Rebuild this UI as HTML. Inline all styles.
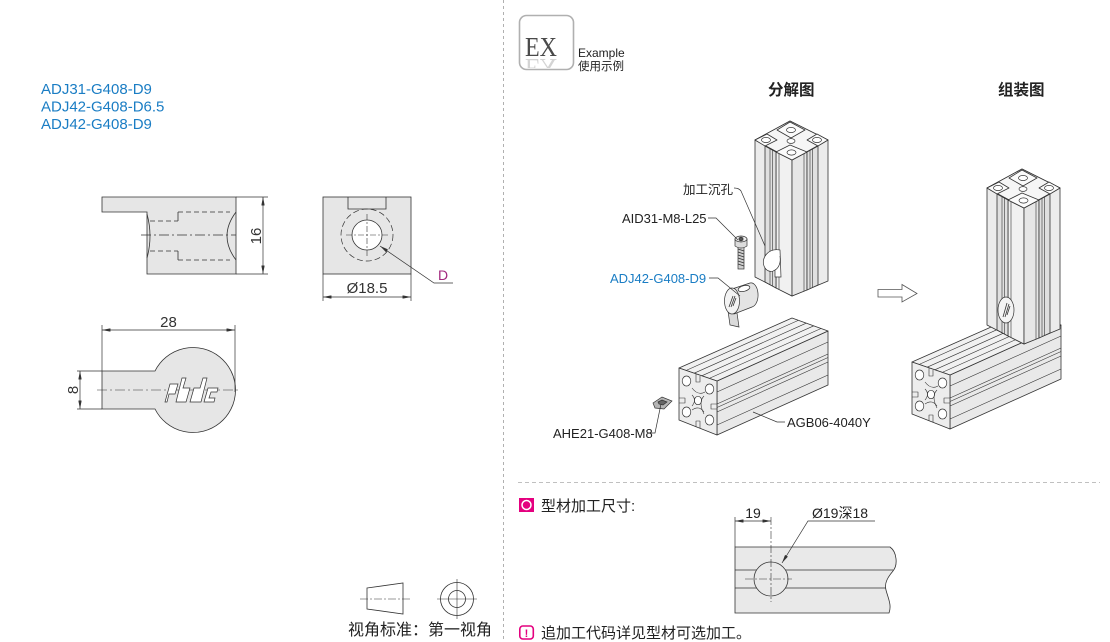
<!DOCTYPE html>
<html><head><meta charset="utf-8">
<style>
html,body{margin:0;padding:0;background:#fff;width:1110px;height:642px;overflow:hidden;}
svg{display:block;}
text{font-family:"Liberation Sans","Noto Sans CJK SC",sans-serif;}
text.serif{font-family:"Liberation Serif",serif;}
</style></head><body>
<svg width="1110" height="642" viewBox="0 0 1110 642" xmlns="http://www.w3.org/2000/svg">
<defs>
<marker id="a" viewBox="0 0 10 4" refX="10" refY="2" markerWidth="9" markerHeight="3.4" markerUnits="userSpaceOnUse" orient="auto-start-reverse"><path d="M0,0L10,2L0,4z" fill="#333"/></marker>
<clipPath id="rc"><rect x="520" y="57" width="53" height="11"/></clipPath>

<g id="vp" stroke="#333" stroke-width="0.8" stroke-linejoin="round">
 <polygon points="755,140 790,121 828,140 828,281 792,296 755,277" fill="#ececec"/>
 <polygon points="776,152 792,160 792,296 776,288" fill="#f1f1f1"/>
 <polygon points="792,160 807,152 807,290 792,296" fill="#e6e6e6"/>
 <polygon points="765,146 776,152 776,288 765,282" fill="#e0e0e0"/>
 <polygon points="807,152 818,146 818,285 807,290" fill="#e0e0e0"/>
 <g fill="none" stroke-width="0.6">
  <path d="M770,148V285 M772.5,150V286 M810,150V288 M812.5,149V287 M779,154V289 M804,154V291"/>
 </g>
 <polygon points="755,140 790,121 828,140 792,160" fill="#f6f6f6"/>
 <polygon points="777,130 790,122 805,130 791,138" fill="#fbfbfb"/>
 <polygon points="755,140 767,134 777,140 765,146" fill="#fbfbfb"/>
 <polygon points="807,140 817,134 828,140 818,146" fill="#fbfbfb"/>
 <polygon points="776,152 790,145 807,152 792,160" fill="#fbfbfb"/>
 <g fill="#fff" stroke-width="0.7">
  <ellipse cx="791" cy="130" rx="4.5" ry="2.6"/>
  <ellipse cx="766" cy="140" rx="4.5" ry="2.6"/>
  <ellipse cx="817" cy="140" rx="4.5" ry="2.6"/>
  <ellipse cx="791.5" cy="152.5" rx="4.5" ry="2.6"/>
  <ellipse cx="791" cy="141" rx="4" ry="2.4"/>
 </g>
</g>

<g id="hp" stroke="#333" stroke-width="0.8" stroke-linejoin="round">
 <polygon points="717,381 828,331 828,385 717,435" fill="#e9e9e9"/>
 <polygon points="679,368 792,318 828,331 717,381" fill="#f1f1f1"/>
 <g fill="none" stroke-width="0.6">
  <path d="M694.2,373.2L806.2,323.2 M701.8,375.8L813.8,325.8 M698,377.5L810,327.5"/>
  <path d="M686,370.5L798,320.5 M709,378.5L821,328.5"/>
  <path d="M717,404L828,354 M717,412L828,362 M717,407.5L828,357.5"/>
  <path d="M717,392L828,342 M717,425L828,375"/>
 </g>
 <polygon points="679,368 717,381 717,435 679,420" fill="#ededed"/>
 <g fill="#fff" stroke-width="0.7">
  <ellipse cx="686.5" cy="381" rx="4.3" ry="5"/>
  <ellipse cx="709.5" cy="389" rx="4.3" ry="5"/>
  <ellipse cx="686.5" cy="412" rx="4.3" ry="5"/>
  <ellipse cx="709.5" cy="420" rx="4.3" ry="5"/>
  <ellipse cx="698" cy="400.5" rx="3.6" ry="4.2"/>
 </g>
 <g fill="none" stroke-width="0.6">
  <path d="M692,388 Q698,396 705,392 M692,406 Q697,400 692,395 M704,396 Q698,402 704,414 M692,410 Q699,405 704,412"/>
  <path d="M696,374 V382 H700 V376 M679,398 H685 V403 H679 M717,404 H711 V409 H717 M696,427 V421 H700 V428"/>
 </g>
</g>
</defs>

<!-- dividers -->
<line x1="503.5" y1="0" x2="503.5" y2="642" stroke="#b0b0b0" stroke-width="1" stroke-dasharray="3,3"/>
<line x1="518" y1="482.5" x2="1100" y2="482.5" stroke="#c0c0c0" stroke-width="1" stroke-dasharray="4,3"/>

<!-- left titles -->
<g font-size="15" fill="#1a7dc4">
 <text x="41" y="94">ADJ31-G408-D9</text>
 <text x="41" y="111.5">ADJ42-G408-D6.5</text>
 <text x="41" y="129">ADJ42-G408-D9</text>
</g>

<!-- part side view -->
<g stroke="#333" stroke-width="0.8" fill="none">
 <path d="M102,197 L236,197 L236,274 L147,274 L147,212 L102,212 Z" fill="#e6e6e6"/>
 <path d="M236,212 Q218,236 236,260"/>
 <path d="M147,214 Q153,236 147,258"/>
 <path d="M178,212V221 M178,251V260" />
 <path d="M178,212H230 M178,260H230 M150,221H178 M150,251H178" stroke-dasharray="5,3"/>
 <path d="M141,235H236" stroke-dasharray="10,3,2,3" stroke-width="0.7"/>
 <path d="M236,197H268 M236,274H268" stroke-width="0.7"/>
 <path d="M263,197V274" stroke-width="0.7" marker-start="url(#a)" marker-end="url(#a)"/>
</g>
<text transform="translate(261,236) rotate(-90)" text-anchor="middle" font-size="15" fill="#333">16</text>

<!-- part front view -->
<g stroke="#333" stroke-width="0.8" fill="none">
 <rect x="323" y="197" width="88" height="77" fill="#e6e6e6"/>
 <path d="M348,197V209H386V197"/>
 <circle cx="367" cy="235" r="26" stroke-dasharray="6,3" stroke-width="0.7"/>
 <circle cx="367" cy="235" r="15" fill="#fff"/>
 <path d="M367,214V256 M346,235H388" stroke-dasharray="6,2,2,2" stroke-width="0.6"/>
 <path d="M453,283H434L380,246" stroke-width="0.7" marker-end="url(#a)"/>
 <path d="M323,274V301 M411,274V301" stroke-width="0.7"/>
 <path d="M323,297H411" stroke-width="0.7" marker-start="url(#a)" marker-end="url(#a)"/>
</g>
<text x="438" y="280" font-size="14" fill="#a2277e">D</text>
<text x="367" y="293" text-anchor="middle" font-size="15" fill="#333">Ø18.5</text>

<!-- part top view -->
<g stroke="#333" stroke-width="0.8" fill="none">
 <path d="M102,371 L155,371 A42.5,42.5 0 1 1 155,409 L102,409 Z" fill="#e6e6e6"/>
 <path d="M97,390H240" stroke-dasharray="10,3,2,3" stroke-width="0.6"/>
 <path d="M102,325V371 M235,325V392" stroke-width="0.7"/>
 <path d="M102,330H235" stroke-width="0.7" marker-start="url(#a)" marker-end="url(#a)"/>
 <path d="M77,371H102 M77,409H102" stroke-width="0.7"/>
 <path d="M80,371V409" stroke-width="0.7" marker-start="url(#a)" marker-end="url(#a)"/>
 <g stroke-width="0.7" fill="#fff">
  <path d="M165,402 L170,384 L178,384 L175,394 L169,394 L167,402 Z"/>
  <path d="M176,402 L182,378 L186,378 L183,388 L190,388 L186,402 Z"/>
  <path d="M190,402 L194,388 L200,388 L203,378 L207,378 L201,402 Z"/>
  <path d="M204,402 L208,388 L218,388 L217,392 L211,392 L209,398 L215,398 L214,402 Z"/>
 </g>
</g>
<text x="168.5" y="327" text-anchor="middle" font-size="15" fill="#333">28</text>
<text transform="translate(78,390) rotate(-90)" text-anchor="middle" font-size="15" fill="#333">8</text>

<!-- projection symbol -->
<g stroke="#333" stroke-width="0.8" fill="none">
 <polygon points="367,588 403,583 403,614 367,609"/>
 <path d="M360,599H410" stroke-dasharray="8,2,2,2" stroke-width="0.6"/>
 <circle cx="457" cy="599" r="16.5"/>
 <circle cx="457" cy="599" r="8.5"/>
 <path d="M437,599H477 M457,579V619" stroke-width="0.6"/>
</g>
<text x="348" y="635" font-size="16" fill="#222">视角标准：第一视角</text>

<!-- EX icon -->
<rect x="519.5" y="15.5" width="54" height="54" rx="7" fill="#fff" stroke="#b0b0b0" stroke-width="1.6"/>
<text class="serif" x="525" y="56" style="font-family:'Liberation Serif',serif" font-size="27" fill="#4a4a4a" textLength="32" lengthAdjust="spacingAndGlyphs">EX</text>
<g clip-path="url(#rc)"><text class="serif" transform="translate(0,115) scale(1,-1)" x="525" y="56" style="font-family:'Liberation Serif',serif" font-size="27" fill="#d4d4d4" textLength="32" lengthAdjust="spacingAndGlyphs">EX</text></g>
<text x="578" y="57" font-size="12" fill="#222">Example</text>
<text x="578" y="70" font-size="11.5" fill="#222">使用示例</text>

<text x="768" y="95" font-size="15.5" font-weight="bold" fill="#222">分解图</text>
<text x="998" y="95" font-size="15.5" font-weight="bold" fill="#222">组装图</text>

<!-- exploded view -->
<use href="#hp"/>
<use href="#vp"/>
<!-- counterbore -->
<g stroke="#333" stroke-width="0.7">
 <path d="M780,250 C768,248 761,258 764,266 C766,271 771,273 775,270 L775,277 L781,277 Z" fill="#fff"/>
 <path d="M775,270 C779,268 781,262 780,256" fill="none"/>
</g>
<!-- screw -->
<g stroke="#333" stroke-width="0.7">
 <rect x="738" y="247" width="6" height="22" fill="#cfcfcf"/>
 <path d="M738,249L744,251 M738,252L744,254 M738,255L744,257 M738,258L744,260 M738,261L744,263 M738,264L744,266" fill="none"/>
 <path d="M735,239 L735,246 Q741,250 747,246 L747,239 Z" fill="#dcdcdc"/>
 <ellipse cx="741" cy="239" rx="6" ry="3" fill="#eee"/>
 <polygon points="739,238 741,237 743,238 743,240 741,241 739,240" fill="#555"/>
</g>
<!-- connector -->
<g stroke="#333" stroke-width="0.7">
 <polygon points="728,311 737,313 739,327 730,325" fill="#dadada"/>
 <path d="M732,289 L750,283 A7,12 0 0 1 752,307 L734,314 Z" fill="#e4e4e4"/>
 <ellipse cx="732" cy="301" rx="7.5" ry="13" fill="#f3f3f3"/>
 <ellipse cx="744" cy="288.5" rx="6" ry="2.8" fill="#fff" transform="rotate(-15 744 288.5)"/>
 <path d="M729,307L733,296 M731,307L735,296 M733,306L736,298" fill="none" stroke-width="0.8"/>
</g>
<!-- nut -->
<g stroke="#333" stroke-width="0.7">
 <polygon points="653,403 662,397 672,401 664,409 655,408" fill="#b5b5b5"/>
 <polygon points="658,402 662,400 667,402 663,405 659,404" fill="#666"/>
</g>

<!-- leaders -->
<g stroke="#333" stroke-width="0.7" fill="none">
 <path d="M734,188 Q739,188 741,191 L765,246"/>
 <path d="M708,218H716L738,240"/>
 <path d="M709,278H718L740,296"/>
 <path d="M648,433H655L661,404"/>
 <path d="M785,422H777L753,412"/>
</g>
<g font-size="13" fill="#222">
 <text x="683" y="194" font-size="12.5">加工沉孔</text>
 <text x="622" y="223">AID31-M8-L25</text>
 <text x="610" y="283" fill="#1a7dc4">ADJ42-G408-D9</text>
 <text x="553" y="438">AHE21-G408-M8</text>
 <text x="787" y="427">AGB06-4040Y</text>
</g>

<!-- arrow -->
<polygon points="878,289.5 902,289.5 902,284.5 917,293.5 902,302 902,297 878,297" fill="#fff" stroke="#555" stroke-width="0.8"/>

<!-- assembled -->
<use href="#hp" transform="translate(233,-6)"/>
<use href="#vp" transform="translate(232,48)"/>
<g stroke="#333" stroke-width="0.7">
 <ellipse cx="1006" cy="310" rx="8" ry="13" fill="#f4f4f4"/>
 <path d="M1003,317L1007,303 M1005,317L1009,304 M1007,315L1010,306" fill="none" stroke-width="0.8"/>
</g>

<!-- bottom section -->
<rect x="519" y="498" width="15" height="14" fill="#e4007f"/>
<circle cx="526.5" cy="505" r="4.5" fill="none" stroke="#fff" stroke-width="1.5"/>
<text x="541" y="511" font-size="15" fill="#222">型材加工尺寸:</text>

<g stroke="#333" stroke-width="0.8" fill="none">
 <path d="M735,547 H890 C897,552 898,565 893,571 C888,577 884,583 886,590 C888,598 892,605 889,613 H735 Z" fill="#e9e9e9"/>
 <path d="M735,570H893 M735,588H886"/>
 <circle cx="771" cy="579" r="17" fill="#e9e9e9"/>
 <path d="M745,579H792 M771,517V602" stroke-dasharray="8,2,2,2" stroke-width="0.6"/>
 <path d="M735,517V547" stroke-width="0.7"/>
 <path d="M735,521H771" stroke-width="0.7" marker-start="url(#a)" marker-end="url(#a)"/>
 <path d="M875,521H808L782,563" stroke-width="0.7" marker-end="url(#a)"/>
</g>
<text x="753" y="518" text-anchor="middle" font-size="14" fill="#222">19</text>
<text x="812" y="518" font-size="14" fill="#222">Ø19深18</text>

<rect x="519.8" y="626" width="13.5" height="13" rx="3" fill="#fff" stroke="#e4007f" stroke-width="1.6"/>
<text x="526.5" y="637" text-anchor="middle" font-size="11" font-weight="bold" fill="#e4007f">!</text>
<text x="541" y="638" font-size="15" fill="#222">追加工代码详见型材可选加工。</text>
</svg>
</body></html>
